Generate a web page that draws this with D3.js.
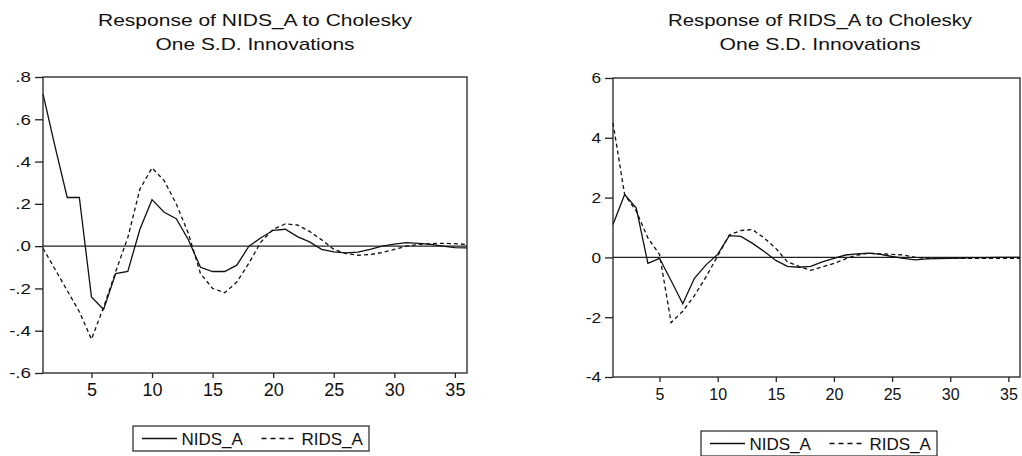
<!DOCTYPE html>
<html>
<head>
<meta charset="utf-8">
<script src="https://cdn.jsdelivr.net/npm/d3@7"></script>
<style>
  html, body { margin: 0; padding: 0; background: #fff; }
  svg { display: block; font-family: "Liberation Sans", Arial, sans-serif; }
</style>
</head>
<body>
<svg id="chart" width="1022" height="456"></svg>
<script>
// Impulse-response periods
const periods = d3.range(1, 37);

// Response of NIDS_A
const nidsOnNids = [0.72, 0.47, 0.23, 0.23, -0.24, -0.30, -0.13, -0.12, 0.08, 0.22,
  0.16, 0.13, 0.03, -0.10, -0.12, -0.12, -0.09, 0.00, 0.04, 0.075,
  0.08, 0.045, 0.02, -0.015, -0.027, -0.032, -0.028, -0.015, 0.0, 0.01,
  0.017, 0.013, 0.008, 0.0, -0.007, -0.008];
const ridsOnNids = [-0.01, -0.11, -0.21, -0.31, -0.44, -0.29, -0.12, 0.04, 0.27, 0.37,
  0.31, 0.20, 0.06, -0.13, -0.20, -0.22, -0.17, -0.08, 0.02, 0.08,
  0.105, 0.10, 0.07, 0.03, -0.015, -0.035, -0.043, -0.04, -0.03, -0.015,
  0.0, 0.008, 0.012, 0.013, 0.012, 0.008];

// Response of RIDS_A
const nidsOnRids = [1.1, 2.1, 1.65, -0.2, -0.03, -0.78, -1.55, -0.7, -0.25, 0.1,
  0.73, 0.7, 0.47, 0.2, -0.1, -0.3, -0.33, -0.3, -0.15, -0.03,
  0.08, 0.12, 0.14, 0.1, 0.03, -0.03, -0.08, -0.05, -0.04, -0.03,
  -0.02, -0.01, -0.01, 0.0, 0.0, 0.0];
const ridsOnRids = [4.5, 2.1, 1.55, 0.65, 0.1, -2.18, -1.8, -1.28, -0.65, 0.05,
  0.75, 0.9, 0.93, 0.65, 0.3, -0.15, -0.3, -0.43, -0.32, -0.2,
  -0.05, 0.08, 0.14, 0.12, 0.1, 0.08, 0.0, -0.03, -0.03, -0.03,
  -0.03, -0.03, -0.03, -0.03, -0.03, -0.03];

const xTicks = [5, 10, 15, 20, 25, 30, 35];
const leftYTicks = [0.8, 0.6, 0.4, 0.2, 0.0, -0.2, -0.4, -0.6];
const leftYLabels = [".8", ".6", ".4", ".2", ".0", "-.2", "-.4", "-.6"];
const rightYTicks = [6, 4, 2, 0, -2, -4];
const rightYLabels = ["6", "4", "2", "0", "-2", "-4"];

const seriesNames = ["NIDS_A", "RIDS_A"];

const svg = d3.select("#chart");
const FONT = "'Liberation Sans', Arial, sans-serif";

function panel(cfg) {
  const g = svg.append("g");
  const x = d3.scaleLinear().domain([1, 36]).range([cfg.x0, cfg.x1]);
  const y = d3.scaleLinear().domain(cfg.yDomain).range([cfg.y1, cfg.y0]);

  // two-line title, drawn slightly wide
  const t = g.append("text").attr("text-anchor", "middle")
    .attr("font-size", 17).attr("fill", "#111");
  t.append("tspan").attr("x", cfg.titleX).attr("y", 26)
    .attr("textLength", cfg.titleW[0]).attr("lengthAdjust", "spacingAndGlyphs").text(cfg.title1);
  t.append("tspan").attr("x", cfg.titleX).attr("y", 50)
    .attr("textLength", cfg.titleW[1]).attr("lengthAdjust", "spacingAndGlyphs").text(cfg.title2);

  // y axis: labels slightly widened
  const yTick = 8, yPad = 4, sx = cfg.ySx;
  const ya = d3.axisLeft(y).tickValues(cfg.yTicks)
    .tickFormat((d, i) => cfg.yLabels[i]).tickSizeOuter(0).tickSize(yTick).tickPadding(yPad);
  const yg = g.append("g").attr("transform", `translate(${cfg.x0},0)`).call(ya);
  yg.select(".domain").remove();
  yg.selectAll("text").attr("font-size", 15).attr("fill", "#111").attr("font-family", FONT)
    .attr("x", -(yTick + yPad) / sx).attr("transform", `scale(${sx},1)`);

  const xa = d3.axisBottom(x).tickValues(xTicks).tickSizeOuter(0).tickSize(5).tickPadding(cfg.xPad);
  const xg = g.append("g").attr("transform", `translate(0,${cfg.y1})`).call(xa);
  xg.select(".domain").remove();
  xg.selectAll("text").attr("font-size", cfg.xFont).attr("fill", "#111").attr("font-family", FONT);
  [yg, xg].forEach(a => a.selectAll("line").attr("stroke", "#222").attr("stroke-width", 1.3));

  // zero line
  g.append("line")
    .attr("x1", cfg.x0).attr("x2", cfg.x1)
    .attr("y1", y(0)).attr("y2", y(0))
    .attr("stroke", "#222").attr("stroke-width", 1.2);

  const line = d3.line().x((d, i) => x(periods[i])).y(d => y(d));
  g.append("path").datum(cfg.solid)
    .attr("d", line).attr("fill", "none")
    .attr("stroke", "#111").attr("stroke-width", 1.3);
  g.append("path").datum(cfg.dashed)
    .attr("d", line).attr("fill", "none")
    .attr("stroke", "#111").attr("stroke-width", 1.3)
    .attr("stroke-dasharray", "4,3");

  // frame
  g.append("rect")
    .attr("x", cfg.x0).attr("y", cfg.y0)
    .attr("width", cfg.x1 - cfg.x0).attr("height", cfg.y1 - cfg.y0)
    .attr("fill", "none").attr("stroke", "#222").attr("stroke-width", 1.3);

  // legend
  const lg = g.append("g").attr("transform", `translate(${cfg.legX},${cfg.legY})`);
  lg.append("rect").attr("x", 0).attr("y", 0).attr("width", 236).attr("height", 25)
    .attr("fill", "#fff").attr("stroke", "#222").attr("stroke-width", 1.2);
  lg.append("line").attr("x1", 9).attr("x2", 44).attr("y1", 12.5).attr("y2", 12.5)
    .attr("stroke", "#111").attr("stroke-width", 1.3);
  lg.append("text").attr("x", 48.5).attr("y", 19).attr("font-size", 17)
    .attr("fill", "#111").text(seriesNames[0]);
  lg.append("line").attr("x1", 128.5).attr("x2", 162).attr("y1", 12.5).attr("y2", 12.5)
    .attr("stroke", "#111").attr("stroke-width", 1.3).attr("stroke-dasharray", "5,4");
  lg.append("text").attr("x", 168.5).attr("y", 19).attr("font-size", 17)
    .attr("fill", "#111").text(seriesNames[1]);
}

panel({
  x0: 43, x1: 467, y0: 77, y1: 373,
  yDomain: [-0.6, 0.8], yTicks: leftYTicks, yLabels: leftYLabels, ySx: 1.25,
  xFont: 18, xPad: 5,
  solid: nidsOnNids, dashed: ridsOnNids,
  title1: "Response of NIDS_A to Cholesky", title2: "One S.D. Innovations",
  titleX: 255, titleW: [314, 199], legX: 133, legY: 426
});

panel({
  x0: 613, x1: 1020, y0: 78, y1: 377,
  yDomain: [-4, 6], yTicks: rightYTicks, yLabels: rightYLabels, ySx: 1.15,
  xFont: 16, xPad: 7,
  solid: nidsOnRids, dashed: ridsOnRids,
  title1: "Response of RIDS_A to Cholesky", title2: "One S.D. Innovations",
  titleX: 820, titleW: [304, 201], legX: 701, legY: 431
});
</script>
</body>
</html>
